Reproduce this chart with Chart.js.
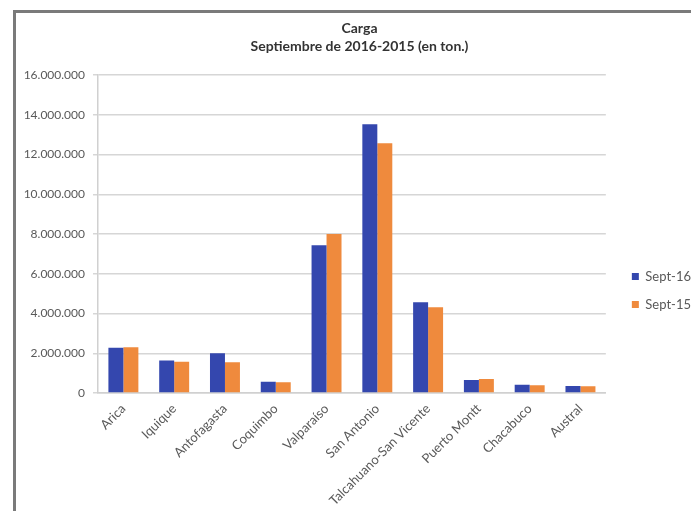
<!DOCTYPE html>
<html>
<head>
<meta charset="utf-8">
<script src="https://cdn.jsdelivr.net/npm/chart.js@4/dist/chart.umd.min.js"></script>
<style>
  html, body { margin: 0; padding: 0; background: #ffffff; }
  #wrap { position: relative; width: 691px; height: 511px; }
  #frame { position: absolute; left: 13px; top: 10px; right: 0; bottom: 0;
           border-top: 3px solid #7a7a7a; border-left: 3px solid #7a7a7a; pointer-events: none; }
  canvas { position: absolute; left: 0; top: 0; }
</style>
</head>
<body>
<div id="wrap">
  <canvas id="c" width="691" height="511"></canvas>
  <div id="frame"></div>
</div>
<script>
const categories = ['Arica', 'Iquique', 'Antofagasta', 'Coquimbo', 'Valparaíso', 'San Antonio',
  'Talcahuano-San Vicente', 'Puerto Montt', 'Chacabuco', 'Austral'];
const sept16 = [2280000, 1640000, 2000000, 570000, 7440000, 13520000, 4570000, 660000, 420000, 350000];
const sept15 = [2300000, 1570000, 1550000, 540000, 8000000, 12560000, 4320000, 710000, 390000, 340000];
const seriesNames = ['Sept-16', 'Sept-15'];
const titleLines = ['Carga', 'Septiembre de 2016-2015 (en ton.)'];
const yMax = 16000000;
const yStep = 2000000;

function fmt(v) {
  return String(Math.round(v)).replace(/\B(?=(\d{3})+(?!\d))/g, '.');
}

const FONT = 'Lato, "Liberation Sans", sans-serif';

new Chart(document.getElementById('c'), {
  type: 'bar',
  data: {
    labels: categories,
    datasets: [
      { label: seriesNames[0], data: sept16, backgroundColor: '#3447ae', borderWidth: 0 },
      { label: seriesNames[1], data: sept15, backgroundColor: '#ef8a3d', borderWidth: 0 }
    ]
  },
  options: {
    responsive: false,
    animation: false,
    layout: { padding: { left: 18, top: 0, right: -10, bottom: 4 } },
    datasets: { bar: { categoryPercentage: 0.59, barPercentage: 1.0 } },
    plugins: {
      title: {
        display: true,
        text: titleLines,
        color: '#333333',
        font: { family: FONT, size: 14, weight: 'bold', lineHeight: 1.25 },
        padding: { top: 20, bottom: 20 }
      },
      legend: {
        position: 'right',
        title: { display: true, text: ' ', font: { family: FONT, size: 10 }, padding: { top: 31, bottom: 31 } },
        labels: {
          boxWidth: 7, boxHeight: 7,
          color: '#595959',
          font: { family: FONT, size: 13 },
          padding: 15
        }
      },
      tooltip: { enabled: false }
    },
    scales: {
      x: {
        afterFit: function (scale) { scale.height = 114; },
        grid: { display: false, drawTicks: false },
        border: { display: true, color: '#d0d0d0', width: 1.5 },
        ticks: {
          color: '#595959',
          font: { family: FONT, size: 13 },
          maxRotation: 45, minRotation: 45,
          autoSkip: false,
          padding: 8
        }
      },
      y: {
        min: 0, max: yMax,
        afterFit: function (scale) { scale.width = 80; },
        grid: { color: '#d6d6d6', lineWidth: 1.5, tickLength: 5 },
        border: { display: true, color: '#d0d0d0', width: 1.5 },
        ticks: {
          stepSize: yStep,
          color: '#595959',
          font: { family: FONT, size: 12 },
          padding: 8,
          callback: function (v) { return fmt(v); }
        }
      },
      gap: {
        type: 'linear',
        position: 'right',
        display: true,
        afterFit: function (scale) { scale.width = 11; },
        grid: { display: false, drawTicks: false },
        border: { display: false },
        ticks: { display: false }
      }
    }
  }
});
</script>
</body>
</html>
